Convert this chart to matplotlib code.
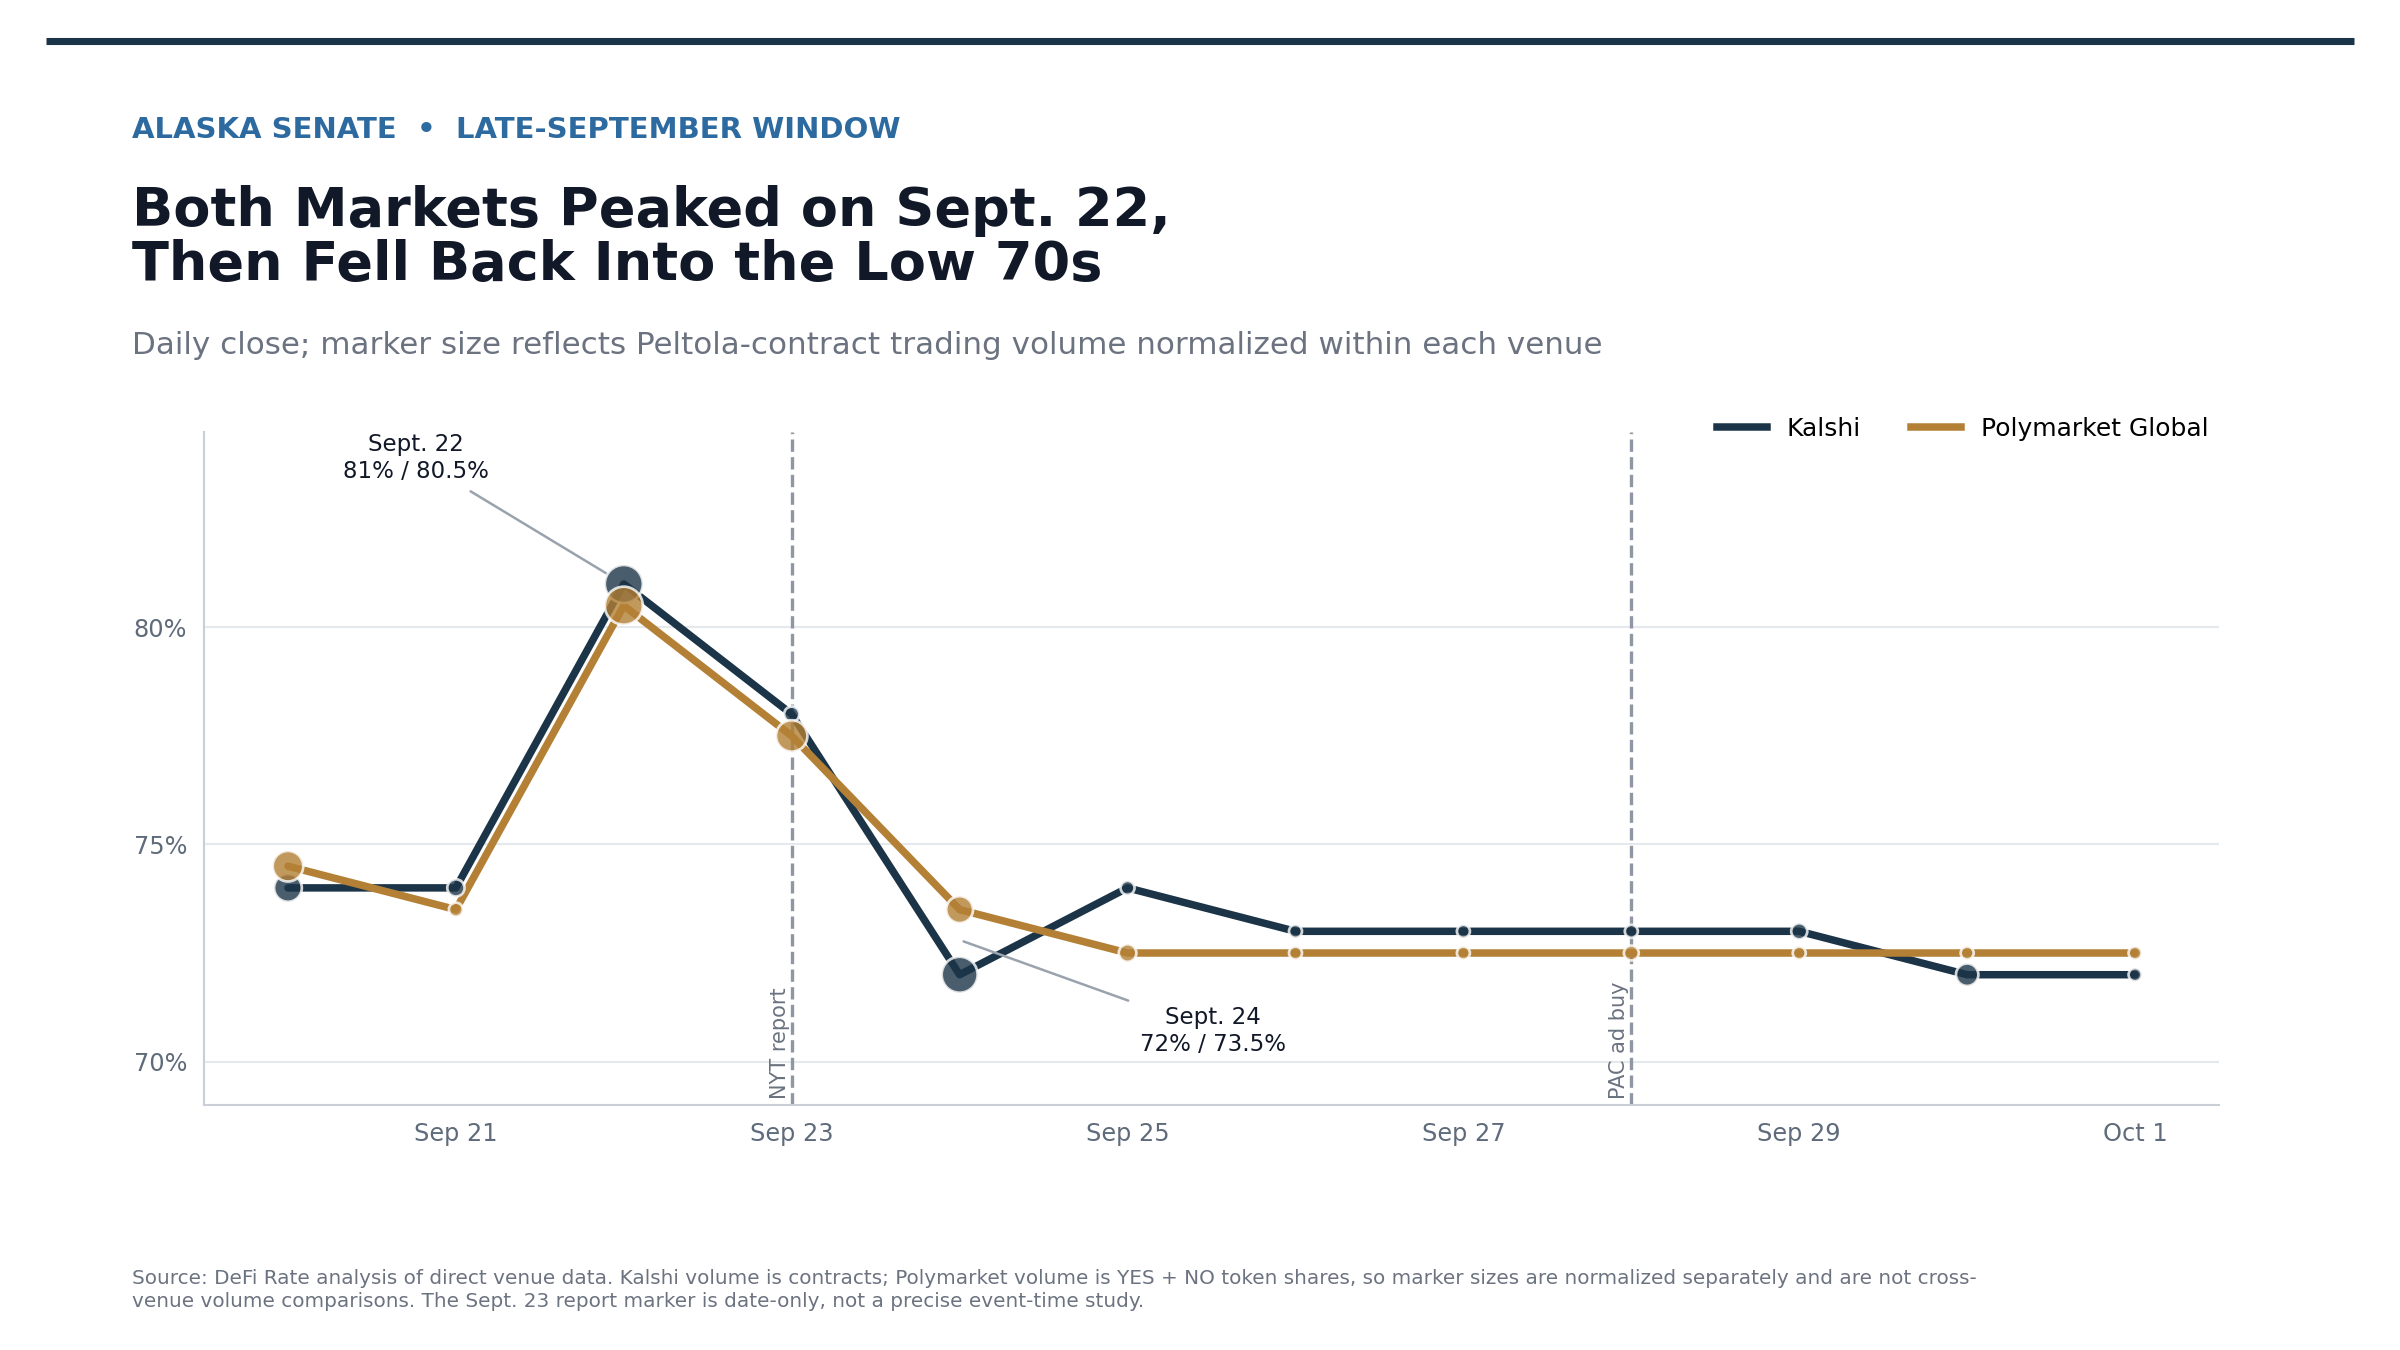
import numpy as np
import pandas as pd
import matplotlib
matplotlib.use("Agg")
import matplotlib.pyplot as plt
import matplotlib.dates as mdates
from matplotlib.lines import Line2D

# data
DATES       = ["2026-09-20", "2026-09-21", "2026-09-22", "2026-09-23",
               "2026-09-24", "2026-09-25", "2026-09-26", "2026-09-27",
               "2026-09-28", "2026-09-29", "2026-09-30", "2026-10-01"]
KALSHI      = [74, 74, 81, 78, 72, 74, 73, 73, 73, 73, 72, 72]
POLY        = [74.5, 73.5, 80.5, 77.5, 73.5, 72.5, 72.5, 72.5, 72.5, 72.5, 72.5, 72.5]
# volume normalized within each venue (0 = lowest day, 1 = highest day)
KALSHI_VOL  = [0.47, 0.10, 1.00, 0.05, 0.88, 0.02, 0.00, 0.00, 0.00, 0.07, 0.26, 0.00]
POLY_VOL    = [0.60, 0.02, 1.00, 0.64, 0.43, 0.11, 0.00, 0.00, 0.04, 0.00, 0.00, 0.00]
EVENT_DATES = ["2026-09-23", "2026-09-28"]
EVENT_NAMES = ["NYT report", "PAC ad buy"]
Y_TICKS     = [70, 75, 80]

C = {"kalshi": "#1B3447", "poly": "#B38035", "kicker": "#2C6AA0",
     "title": "#111827", "muted": "#6B7280", "tick": "#5F6B7A",
     "grid": "#E5E8EC", "spine": "#C8CFD6", "event": "#8E97A3", "note": "#9AA3AD"}


def marker_area(vol):
    return 39 + np.asarray(vol) * 294


def draw_series(ax, x, y, vol, color, label):
    ax.plot(x, y, color=color, lw=3.6, label=label, zorder=3, solid_capstyle="round")
    ax.scatter(x, y, s=marker_area(vol), color=color, alpha=0.8,
               edgecolors="white", linewidths=1.3, zorder=4)


def main():
    dts = pd.to_datetime(DATES)
    x = mdates.date2num(dts)
    ev_x = mdates.date2num(pd.to_datetime(EVENT_DATES))

    fig = plt.figure(figsize=(16, 9), dpi=150)
    fig.patch.set_facecolor("white")
    ax = fig.add_axes([0.085, 0.1815, 0.8396, 0.4985])

    draw_series(ax, x, KALSHI, KALSHI_VOL, C["kalshi"], "Kalshi")
    draw_series(ax, x, POLY, POLY_VOL, C["poly"], "Polymarket Global")

    for d, name in zip(ev_x, EVENT_NAMES):
        ax.axvline(d, color=C["event"], ls="--", lw=1.6, zorder=1)
        ax.annotate(name, xy=(d, 0), xycoords=ax.get_xaxis_transform(),
                    xytext=(-1, 3), textcoords="offset points", rotation=90,
                    ha="right", va="bottom", fontsize=10, color=C["muted"])

    ax.annotate("Sept. 22\n81% / 80.5%", xy=(x[2], KALSHI[2]),
                xytext=(x[0] + 0.76, 83.9), ha="center", va="center",
                fontsize=11, color=C["title"],
                arrowprops=dict(arrowstyle="-", color=C["note"], lw=1.2,
                                shrinkA=4, shrinkB=9))
    ax.annotate("Sept. 24\n72% / 73.5%", xy=(x[4], 72.8),
                xytext=(x[5] + 0.51, 70.7), ha="center", va="center",
                fontsize=11, color=C["title"],
                arrowprops=dict(arrowstyle="-", color=C["note"], lw=1.2,
                                shrinkA=4, shrinkB=2))

    ax.set_xlim(x[0] - 0.5, x[-1] + 0.5)
    ax.set_ylim(69, 84.5)
    ax.set_yticks(Y_TICKS)
    ax.set_yticklabels([f"{t}%" for t in Y_TICKS])
    ax.set_xticks(x[1::2])
    ax.set_xticklabels([f"{d:%b} {d.day}" for d in dts[1::2]])
    ax.tick_params(length=0, labelsize=11.5, labelcolor=C["tick"], pad=8)

    ax.grid(axis="y", color=C["grid"], lw=1.0)
    ax.set_axisbelow(True)
    for s in ["top", "right"]:
        ax.spines[s].set_visible(False)
    for s in ["left", "bottom"]:
        ax.spines[s].set_color(C["spine"])
        ax.spines[s].set_linewidth(1.0)

    handles = [Line2D([], [], color=C["kalshi"], lw=3.6),
               Line2D([], [], color=C["poly"], lw=3.6)]
    ax.legend(handles, ["Kalshi", "Polymarket Global"], loc="upper right",
              bbox_to_anchor=(1.006, 1.056), ncol=2, frameon=False, fontsize=12,
              handlelength=2.0)

    # header
    fig.add_artist(Line2D([0.019, 0.981], [0.9696, 0.9696], transform=fig.transFigure,
                          color=C["kalshi"], lw=3.4, solid_capstyle="butt"))
    fig.text(0.055, 0.898, "ALASKA SENATE  \u2022  LATE-SEPTEMBER WINDOW",
             fontsize=14, fontweight="bold", color=C["kicker"], va="baseline")
    fig.text(0.055, 0.7926, "Both Markets Peaked on Sept. 22,\nThen Fell Back Into the Low 70s",
             fontsize=26, fontweight="bold", color=C["title"], va="baseline",
             linespacing=1.06)
    fig.text(0.055, 0.738,
             "Daily close; marker size reflects Peltola-contract trading volume "
             "normalized within each venue",
             fontsize=14.9, color=C["muted"], va="baseline")

    fig.text(0.055, 0.0319,
             "Source: DeFi Rate analysis of direct venue data. Kalshi volume is contracts; "
             "Polymarket volume is YES + NO token shares, so marker sizes are normalized "
             "separately and are not cross-\nvenue volume comparisons. The Sept. 23 report "
             "marker is date-only, not a precise event-time study.",
             fontsize=9.6, color=C["muted"], va="baseline", linespacing=1.25)

    fig.savefig("out.png", dpi=150)
    plt.close(fig)


if __name__ == "__main__":
    main()
